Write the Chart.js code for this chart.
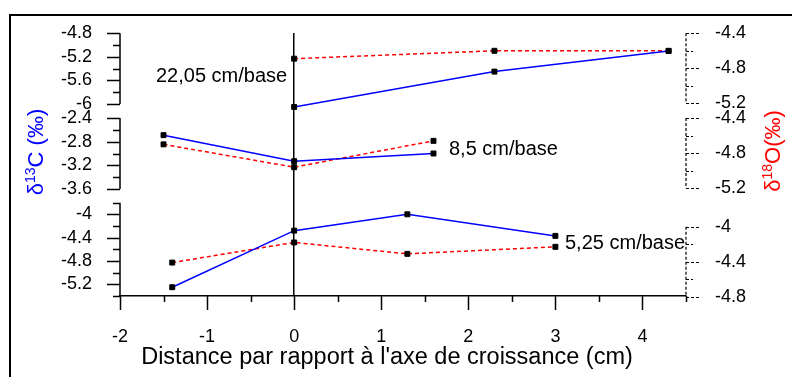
<!DOCTYPE html>
<html>
<head>
<meta charset="utf-8">
<script src="https://cdn.jsdelivr.net/npm/chart.js@4.4.1/dist/chart.umd.min.js"></script>
<style>
  html, body { margin: 0; padding: 0; background: #fff; }
  canvas { display: block; }
</style>
</head>
<body>
<canvas id="myChart" width="792" height="377"></canvas>
<script>
// distance to the growth axis (cm) for each section
const xTop = [0, 2.3, 4.3];
const xMid = [-1.5, 0, 1.6];
const xBot = [-1.4, 0, 1.3, 3];

// d13C (blue, left axes)
const c13Top = [-6.05, -5.45, -5.10];
const c13Mid = [-2.69, -3.13, -3.00];
const c13Bot = [-5.25, -4.28, -4.00, -4.37];

// d18O (red, right axes)
const o18Top = [-4.69, -4.60, -4.60];
const o18Mid = [-4.70, -4.96, -4.66];
const o18Bot = [-4.41, -4.18, -4.31, -4.23];

const sectionLabels = ['22,05 cm/base', '8,5 cm/base', '5,25 cm/base'];

// ticks of every axis segment (only every other one gets a label)
const c13TopTicks = [-4.8, -5.0, -5.2, -5.4, -5.6, -5.8, -6.0];
const c13MidTicks = [-2.4, -2.6, -2.8, -3.0, -3.2, -3.4, -3.6];
const c13BotTicks = [-3.8, -4.0, -4.2, -4.4, -4.6, -4.8, -5.0, -5.2, -5.4];
const o18TopTicks = [-4.4, -4.6, -4.8, -5.0, -5.2];
const o18MidTicks = [-4.4, -4.6, -4.8, -5.0, -5.2];
const o18BotTicks = [-4.0, -4.2, -4.4, -4.6, -4.8];
const xTicks = [-2, -1.5, -1, -0.5, 0, 0.5, 1, 1.5, 2, 2.5, 3, 3.5, 4, 4.5];

const FONT = '"Liberation Sans", Arial, sans-serif';
const chartTop = 33, chartBottom = 296, chartLeft = 120, chartRight = 686;

// where each segment sits on the page: two tick values and their pixel rows
const segments = {
  yC1: { v: [-4.8, -6.0], px: [33.3, 104] },
  yC2: { v: [-2.4, -3.6], px: [118, 189] },
  yC3: { v: [-4.0, -5.2], px: [214.3, 284.3] },
  yO1: { v: [-4.4, -5.2], px: [33.3, 103.3] },
  yO2: { v: [-4.4, -5.2], px: [118, 188.3] },
  yO3: { v: [-4.0, -4.8], px: [226.7, 296.7] }
};
const segTicks = {
  yC1: c13TopTicks, yC2: c13MidTicks, yC3: c13BotTicks,
  yO1: o18TopTicks, yO2: o18MidTicks, yO3: o18BotTicks
};

function isMajor(v) {
  return Math.round(Math.abs(v) * 10) % 4 === 0;
}
function fmt(v) {
  return String(Number(v.toFixed(1)));
}

function yScale(id, pos) {
  const seg = segments[id];
  const k = (seg.v[1] - seg.v[0]) / (seg.px[1] - seg.px[0]);
  const tickVals = segTicks[id];
  return {
    type: 'linear',
    position: pos,
    min: seg.v[0] + (chartBottom - seg.px[0]) * k,
    max: seg.v[0] + (chartTop - seg.px[0]) * k,
    // all three axes of a side share the same spot
    afterFit: s => { s.width = 0; s.paddingTop = 0; s.paddingBottom = 0; },
    afterBuildTicks: s => { s.ticks = tickVals.map(v => ({ value: v })); },
    grid: { display: false, drawTicks: false },
    border: { display: false },
    ticks: {
      autoSkip: false,
      padding: pos === 'left' ? 28 : 29,
      color: '#000',
      font: { family: FONT, size: 18 },
      callback: v => isMajor(v) ? fmt(v) : ''
    }
  };
}

function pts(xs, ys) {
  return xs.map((x, i) => ({ x: x, y: ys[i] }));
}

function lineSet(xs, ys, axis, isC13) {
  return {
    data: pts(xs, ys),
    yAxisID: axis,
    showLine: true,
    borderColor: isC13 ? '#0000ff' : '#ff0000',
    borderWidth: 1.5,
    borderDash: isC13 ? [] : [4, 3],
    pointStyle: 'rect',
    pointRadius: 3.5,
    pointBackgroundColor: '#000',
    pointBorderColor: '#000',
    pointBorderWidth: 1,
    clip: false
  };
}

// draws the broken axis segments, tick marks, frame and free texts
const decor = {
  id: 'decor',
  afterLayout(chart) {
    // give the zero-width y axes room so their labels are not clipped
    Object.keys(segments).forEach(id => {
      const s = chart.scales[id];
      if (id.startsWith('yC')) { s.left = 0; s.right = chartLeft; }
      else { s.left = chartRight; s.right = 792; }
    });
  },
  beforeDatasetsDraw(chart) {
    const ctx = chart.ctx;
    ctx.save();
    ctx.strokeStyle = '#000';
    Object.keys(segments).forEach(id => {
      const s = chart.scales[id];
      const vals = segTicks[id];
      const left = id.startsWith('yC');
      const x = left ? chartLeft : chartRight;
      ctx.lineWidth = left ? 1.5 : 1.2;
      ctx.setLineDash(left ? [] : [3, 2]);
      ctx.beginPath();
      ctx.moveTo(x, s.getPixelForValue(vals[0]));
      ctx.lineTo(x, s.getPixelForValue(vals[vals.length - 1]));
      vals.forEach(v => {
        const y = Math.round(s.getPixelForValue(v)) + 0.5;
        const len = isMajor(v) ? 13 : 7;
        ctx.moveTo(x, y);
        ctx.lineTo(left ? x - len : x + len, y);
      });
      ctx.stroke();
    });
    ctx.setLineDash([]);
    ctx.lineWidth = 1.5;
    const xs = chart.scales.x;
    ctx.beginPath();
    xTicks.forEach(v => {
      const px = Math.round(xs.getPixelForValue(v)) + 0.5;
      const len = Number.isInteger(v) ? 14 : 6;
      ctx.moveTo(px, chartBottom);
      ctx.lineTo(px, chartBottom + len);
    });
    ctx.stroke();
    ctx.restore();
  },
  afterDraw(chart) {
    const ctx = chart.ctx;
    ctx.save();
    ctx.strokeStyle = '#000';
    ctx.lineWidth = 2;
    ctx.strokeRect(10, 15, 900, 500);

    ctx.fillStyle = '#000';
    ctx.textBaseline = 'middle';
    ctx.textAlign = 'left';
    ctx.font = '20px ' + FONT;
    ctx.fillText(sectionLabels[0], 156, 76);
    ctx.fillText(sectionLabels[1], 449, 149);
    ctx.fillText(sectionLabels[2], 565, 243);

    ctx.font = '23.5px ' + FONT;
    ctx.textAlign = 'center';
    ctx.fillText("Distance par rapport à l'axe de croissance (cm)", 387, 358);

    drawTitle(ctx, 37, 152, ['δ', '13', 'C (‰)'], '#0000ff');
    drawTitle(ctx, 774, 151, ['δ', '18', 'O(‰)'], '#ff0000');
    ctx.restore();
  }
};

function drawTitle(ctx, cx, cy, parts, color) {
  const big = '22px ' + FONT, small = '14px ' + FONT;
  ctx.save();
  ctx.font = big;
  const w0 = ctx.measureText(parts[0]).width;
  const w2 = ctx.measureText(parts[2]).width;
  ctx.font = small;
  const w1 = ctx.measureText(parts[1]).width;
  const total = w0 + w1 + w2;
  ctx.translate(cx, cy);
  ctx.rotate(-Math.PI / 2);
  ctx.fillStyle = color;
  ctx.textAlign = 'left';
  ctx.textBaseline = 'middle';
  let x = -total / 2;
  ctx.font = big;
  ctx.fillText(parts[0], x, 0);
  x += w0;
  ctx.font = small;
  ctx.fillText(parts[1], x, -6);
  x += w1;
  ctx.font = big;
  ctx.fillText(parts[2], x, 0);
  ctx.restore();
}

Chart.defaults.font.family = FONT;

new Chart(document.getElementById('myChart').getContext('2d'), {
  type: 'scatter',
  data: {
    datasets: [
      lineSet(xTop, c13Top, 'yC1', true),
      lineSet(xTop, o18Top, 'yO1', false),
      lineSet(xMid, c13Mid, 'yC2', true),
      lineSet(xMid, o18Mid, 'yO2', false),
      lineSet(xBot, c13Bot, 'yC3', true),
      lineSet(xBot, o18Bot, 'yO3', false)
    ]
  },
  options: {
    responsive: false,
    animation: false,
    devicePixelRatio: 1,
    layout: { padding: { left: chartLeft, right: 792 - chartRight, top: chartTop, bottom: 0 } },
    scales: {
      x: {
        type: 'linear',
        min: -2,
        max: 4.5,
        afterFit: s => { s.height = 377 - chartBottom; },
        afterBuildTicks: s => { s.ticks = xTicks.map(v => ({ value: v })); },
        grid: {
          drawTicks: false,
          color: c => (c.tick && c.tick.value === 0) ? '#000' : 'rgba(0,0,0,0)',
          lineWidth: 1.5
        },
        border: { display: true, color: '#000', width: 1.5 },
        ticks: {
          autoSkip: false,
          maxRotation: 0,
          padding: 30,
          color: '#000',
          font: { family: FONT, size: 18 },
          callback: v => Number.isInteger(v) ? String(v) : ''
        }
      },
      yC1: yScale('yC1', 'left'),
      yC2: yScale('yC2', 'left'),
      yC3: yScale('yC3', 'left'),
      yO1: yScale('yO1', 'right'),
      yO2: yScale('yO2', 'right'),
      yO3: yScale('yO3', 'right')
    },
    plugins: {
      legend: { display: false },
      tooltip: { enabled: false }
    }
  },
  plugins: [decor]
});
</script>
</body>
</html>
